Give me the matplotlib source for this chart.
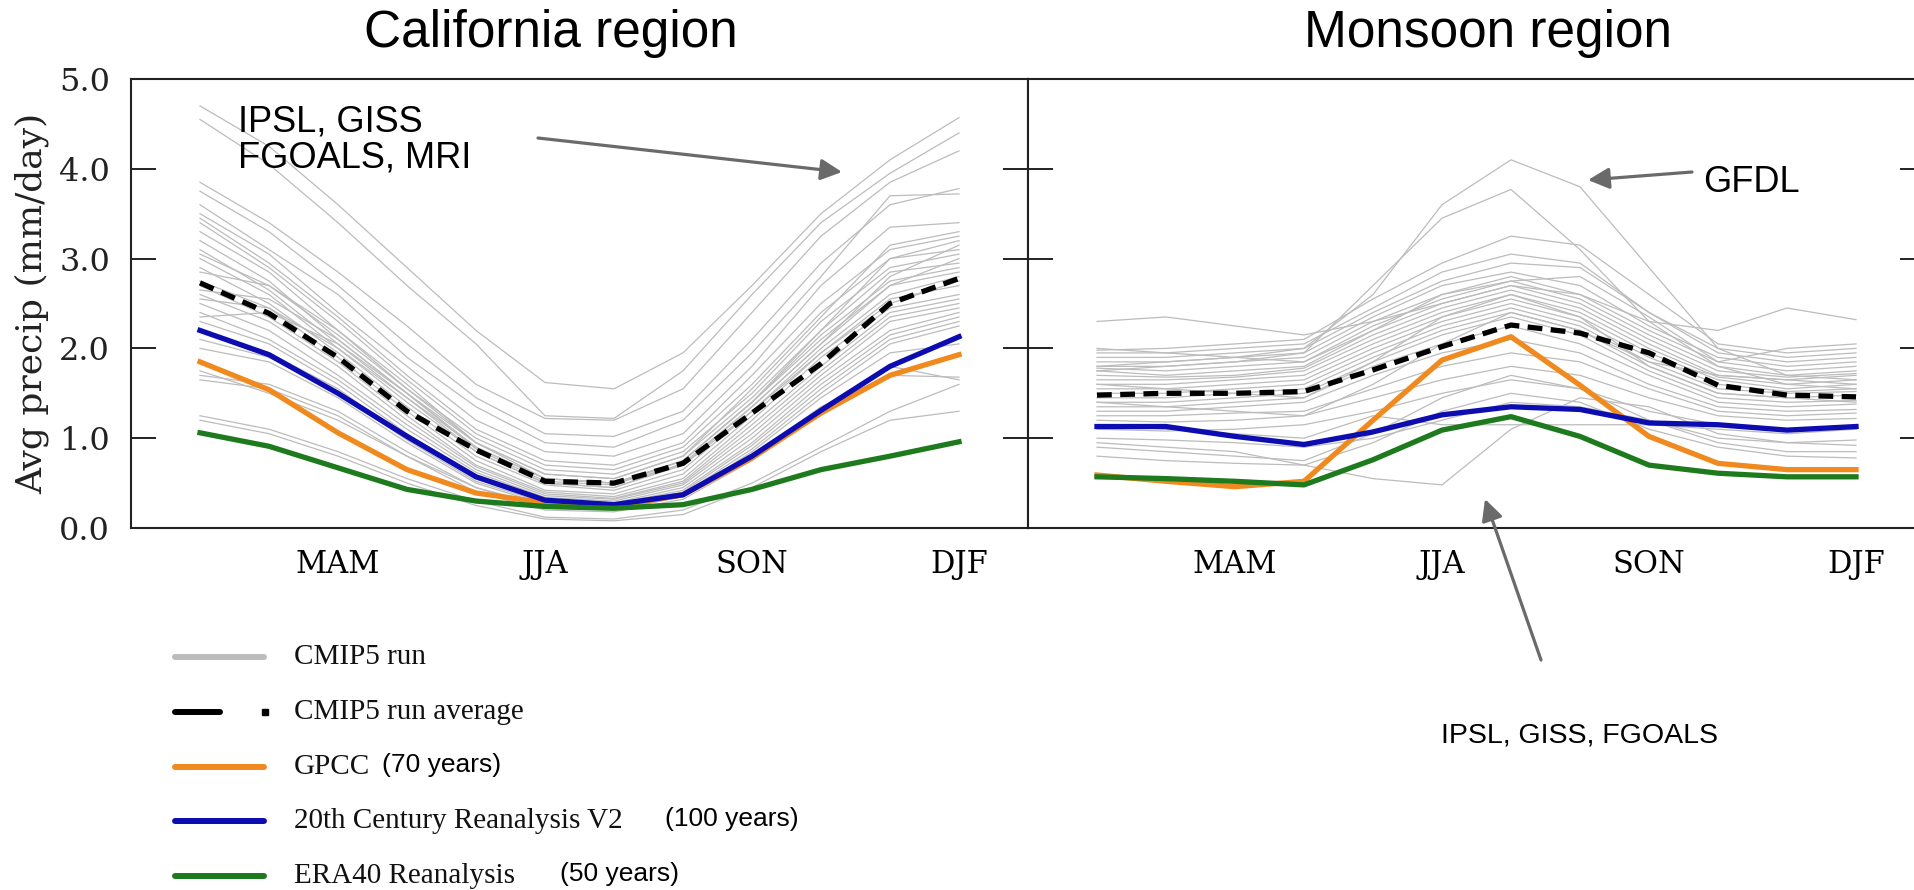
import matplotlib
matplotlib.use("Agg")
import matplotlib.pyplot as plt
from matplotlib.patches import FancyArrowPatch
from matplotlib.lines import Line2D

# ---------------- data ----------------
months = [1, 2, 3, 4, 5, 6, 7, 8, 9, 10, 11, 12]
season_ticks = [3, 6, 9, 12]
season_labels = ["MAM", "JJA", "SON", "DJF"]
y_ticks = [0, 1, 2, 3, 4, 5]
y_ticklabels = ["0.0", "1.0", "2.0", "3.0", "4.0", "5.0"]

cal_runs = [
    [4.70, 4.25, 3.60, 2.90, 2.20, 1.62, 1.55, 1.95, 2.70, 3.50, 4.10, 4.57],
    [4.55, 4.05, 3.40, 2.70, 2.05, 1.25, 1.22, 1.75, 2.60, 3.40, 3.95, 4.40],
    [3.85, 3.40, 2.85, 2.25, 1.60, 1.22, 1.20, 1.55, 2.40, 3.25, 3.85, 4.20],
    [3.75, 3.30, 2.70, 2.05, 1.45, 1.05, 1.02, 1.30, 2.10, 2.95, 3.60, 3.78],
    [3.60, 3.10, 2.60, 1.90, 1.35, 0.95, 0.90, 1.20, 1.95, 2.80, 3.70, 3.72],
    [3.50, 3.05, 2.40, 1.80, 1.20, 0.85, 0.80, 1.05, 1.80, 2.70, 3.35, 3.40],
    [3.45, 2.95, 2.35, 1.70, 1.10, 0.75, 0.70, 0.95, 1.70, 2.50, 3.10, 3.25],
    [3.40, 2.90, 2.30, 1.65, 1.05, 0.70, 0.65, 0.90, 1.60, 2.40, 3.00, 3.10],
    [3.30, 2.85, 2.20, 1.55, 1.00, 0.65, 0.60, 0.85, 1.50, 2.30, 2.90, 3.05],
    [3.20, 2.75, 2.10, 1.50, 0.95, 0.60, 0.55, 0.80, 1.45, 2.20, 2.85, 2.95],
    [3.10, 2.65, 2.05, 1.45, 0.90, 0.55, 0.50, 0.75, 1.40, 2.15, 2.75, 2.90],
    [3.00, 2.60, 2.00, 1.40, 0.85, 0.50, 0.45, 0.70, 1.35, 2.05, 2.70, 2.85],
    [2.90, 2.50, 1.95, 1.35, 0.80, 0.48, 0.42, 0.65, 1.30, 2.00, 2.60, 2.80],
    [2.85, 2.70, 2.20, 1.60, 0.95, 0.55, 0.50, 0.70, 1.30, 1.95, 2.50, 2.75],
    [2.75, 2.45, 1.90, 1.30, 0.75, 0.42, 0.38, 0.60, 1.25, 1.95, 2.55, 2.70],
    [2.70, 2.35, 1.85, 1.25, 0.70, 0.40, 0.35, 0.55, 1.20, 1.90, 2.45, 2.60],
    [2.60, 2.30, 1.80, 1.20, 0.68, 0.38, 0.33, 0.52, 1.15, 1.80, 2.40, 2.55],
    [2.50, 2.20, 1.70, 1.15, 0.65, 0.36, 0.32, 0.50, 1.10, 1.75, 2.35, 2.50],
    [2.40, 2.10, 1.65, 1.10, 0.62, 0.34, 0.30, 0.48, 1.05, 1.70, 2.30, 2.45],
    [2.30, 2.05, 1.60, 1.05, 0.58, 0.32, 0.28, 0.45, 1.00, 1.65, 2.20, 2.40],
    [2.20, 1.95, 1.55, 1.00, 0.55, 0.30, 0.27, 0.42, 0.95, 1.60, 2.15, 2.35],
    [2.10, 1.90, 1.50, 0.98, 0.52, 0.28, 0.25, 0.40, 0.92, 1.55, 2.10, 2.30],
    [2.00, 1.85, 1.45, 0.95, 0.50, 0.26, 0.23, 0.38, 0.88, 1.50, 2.05, 2.25],
    [1.70, 1.60, 1.30, 0.85, 0.45, 0.22, 0.20, 0.35, 0.80, 1.35, 1.70, 1.68],
    [1.65, 1.55, 1.25, 0.80, 0.40, 0.20, 0.18, 0.32, 0.75, 1.30, 1.80, 1.65],
    [1.25, 1.10, 0.85, 0.55, 0.30, 0.12, 0.10, 0.20, 0.50, 0.90, 1.30, 1.60],
    [1.20, 1.05, 0.80, 0.50, 0.25, 0.10, 0.08, 0.15, 0.45, 0.85, 1.20, 1.30],
    [1.75, 1.50, 1.20, 0.80, 0.45, 0.25, 0.20, 0.35, 0.85, 1.45, 1.95, 2.05],
    [3.05, 2.70, 2.15, 1.55, 0.95, 0.60, 0.55, 0.80, 1.55, 2.35, 3.15, 3.30],
    [2.35, 2.40, 2.05, 1.50, 0.90, 0.55, 0.50, 0.75, 1.40, 2.10, 2.70, 3.00],
    [2.55, 2.45, 2.00, 1.45, 0.85, 0.50, 0.45, 0.72, 1.35, 2.05, 2.80, 3.15],
    [2.65, 2.55, 2.10, 1.50, 0.88, 0.52, 0.48, 0.75, 1.40, 2.20, 3.00, 3.20],
]
cal_avg = [2.73, 2.39, 1.90, 1.30, 0.87, 0.52, 0.50, 0.72, 1.28, 1.83, 2.50, 2.78]
cal_gpcc = [1.85, 1.54, 1.06, 0.65, 0.39, 0.28, 0.24, 0.37, 0.78, 1.28, 1.70, 1.93]
cal_20cr = [2.20, 1.93, 1.50, 1.02, 0.57, 0.31, 0.26, 0.37, 0.80, 1.31, 1.80, 2.13]
cal_era40 = [1.06, 0.91, 0.67, 0.43, 0.30, 0.24, 0.22, 0.26, 0.43, 0.65, 0.80, 0.96]

mon_runs = [
    [1.80, 1.85, 1.90, 2.00, 2.60, 3.60, 4.10, 3.80, 2.90, 2.00, 1.70, 1.65],
    [1.75, 1.80, 1.85, 1.95, 2.70, 3.45, 3.77, 3.10, 2.30, 1.80, 1.60, 1.55],
    [2.30, 2.35, 2.25, 2.15, 2.30, 2.50, 2.70, 2.60, 2.30, 2.20, 2.45, 2.32],
    [1.98, 2.00, 2.05, 2.10, 2.55, 2.95, 3.25, 3.15, 2.60, 2.05, 1.95, 2.00],
    [1.95, 1.95, 2.00, 2.05, 2.45, 2.85, 3.05, 2.95, 2.40, 2.00, 1.90, 1.95],
    [1.90, 1.90, 1.95, 2.00, 2.40, 2.75, 2.95, 2.90, 2.40, 1.95, 1.85, 1.90],
    [1.85, 1.85, 1.90, 1.95, 2.35, 2.70, 2.85, 2.70, 2.25, 1.90, 1.80, 1.85],
    [1.80, 1.80, 1.85, 1.90, 2.30, 2.60, 2.80, 2.60, 2.20, 1.85, 1.75, 1.80],
    [1.78, 1.75, 1.80, 1.85, 2.25, 2.55, 2.75, 2.55, 2.15, 1.80, 1.70, 1.75],
    [1.75, 1.70, 1.75, 1.80, 2.20, 2.50, 2.70, 2.50, 2.10, 1.75, 1.68, 1.72],
    [1.70, 1.68, 1.70, 1.78, 2.15, 2.45, 2.65, 2.45, 2.05, 1.70, 1.65, 1.70],
    [1.65, 1.65, 1.68, 1.75, 2.10, 2.40, 2.60, 2.40, 2.00, 1.68, 1.60, 1.65],
    [1.60, 1.60, 1.65, 1.70, 2.05, 2.35, 2.55, 2.35, 1.95, 1.65, 1.55, 1.60],
    [1.55, 1.55, 1.60, 1.65, 2.00, 2.30, 2.50, 2.30, 1.90, 1.60, 1.52, 1.55],
    [1.50, 1.50, 1.55, 1.60, 1.95, 2.25, 2.45, 2.25, 1.85, 1.55, 1.50, 1.52],
    [1.45, 1.45, 1.50, 1.55, 1.90, 2.20, 2.40, 2.20, 1.80, 1.50, 1.45, 1.48],
    [1.40, 1.40, 1.45, 1.50, 1.85, 2.15, 2.35, 2.15, 1.75, 1.45, 1.40, 1.42],
    [1.35, 1.35, 1.40, 1.45, 1.80, 2.05, 2.25, 2.05, 1.70, 1.40, 1.35, 1.38],
    [1.30, 1.30, 1.35, 1.40, 1.70, 1.95, 2.10, 1.95, 1.60, 1.35, 1.30, 1.32],
    [1.25, 1.25, 1.28, 1.30, 1.55, 1.80, 1.95, 1.85, 1.55, 1.30, 1.25, 1.28],
    [1.20, 1.18, 1.20, 1.25, 1.45, 1.65, 1.80, 1.70, 1.45, 1.25, 1.20, 1.22],
    [1.10, 1.08, 1.10, 1.15, 1.30, 1.50, 1.65, 1.55, 1.30, 1.15, 1.10, 1.10],
    [0.95, 0.90, 0.85, 0.70, 0.55, 0.48, 1.10, 1.45, 1.35, 1.05, 0.95, 0.92],
    [1.00, 0.98, 0.95, 0.90, 1.00, 1.20, 1.40, 1.35, 1.20, 1.00, 0.95, 0.98],
    [0.90, 0.85, 0.80, 0.75, 1.05, 1.45, 1.70, 1.55, 1.20, 0.95, 0.85, 0.85],
    [0.80, 0.75, 0.72, 0.70, 0.95, 1.30, 1.50, 1.40, 1.10, 0.90, 0.80, 0.78],
    [2.00, 1.95, 1.90, 1.85, 2.20, 2.60, 2.75, 2.80, 2.35, 1.85, 2.00, 2.05],
    [1.60, 1.55, 1.50, 1.45, 1.85, 2.35, 2.60, 2.35, 1.80, 1.50, 1.45, 1.40],
    [1.15, 1.10, 1.05, 1.00, 1.25, 1.15, 1.15, 1.15, 1.15, 1.10, 1.05, 1.10],
    [1.40, 1.35, 1.30, 1.25, 1.60, 2.05, 2.40, 2.20, 1.85, 1.70, 1.65, 1.60],
]
mon_avg = [1.48, 1.50, 1.50, 1.52, 1.76, 2.02, 2.26, 2.17, 1.95, 1.59, 1.48, 1.46]
mon_gpcc = [0.59, 0.52, 0.46, 0.52, 1.20, 1.87, 2.13, 1.59, 1.02, 0.72, 0.65, 0.65]
mon_20cr = [1.13, 1.13, 1.02, 0.93, 1.07, 1.26, 1.35, 1.32, 1.17, 1.15, 1.09, 1.13]
mon_era40 = [0.57, 0.55, 0.52, 0.48, 0.76, 1.09, 1.24, 1.02, 0.70, 0.61, 0.57, 0.57]

titles = ["California region", "Monsoon region"]
ylabel = "Avg precip (mm/day)"
legend_labels = ["CMIP5 run", "CMIP5 run average", "GPCC", "20th Century Reanalysis V2", "ERA40 Reanalysis"]
legend_notes = ["", "", "(70 years)", "(100 years)", "(50 years)"]

# ---------------- style ----------------
W, H = 1915, 890
C_GRAY = "#bcbcbc"
C_BLACK = "#000000"
C_ORANGE = "#f08a1e"
C_BLUE = "#0c0cb0"
C_GREEN = "#1d7a1d"
C_ARROW = "#6a6a6a"
SERIF = "DejaVu Serif"
SANS = "Liberation Sans"
LW = 3.8

fig = plt.figure(figsize=(W / 100, H / 100), dpi=100)
fig.patch.set_facecolor("white")

def fx(x):
    return x / W

def fy(y):
    return 1 - y / H

ax_w = 897 / W
ax_h = 449 / H
ax_y0 = fy(528)
axL = fig.add_axes([fx(131), ax_y0, ax_w, ax_h])
axR = fig.add_axes([fx(1028), ax_y0, ax_w, ax_h])

panels = [
    (axL, cal_runs, cal_avg, cal_gpcc, cal_20cr, cal_era40),
    (axR, mon_runs, mon_avg, mon_gpcc, mon_20cr, mon_era40),
]
for ax, runs, avg, gpcc, cr20, era in panels:
    for r in runs:
        ax.plot(months, r, color=C_GRAY, lw=0.9, zorder=1)
    ax.plot(months, avg, color=C_BLACK, lw=LW, dashes=(2.8, 1.6), zorder=3)
    ax.plot(months, gpcc, color=C_ORANGE, lw=LW, zorder=4)
    ax.plot(months, cr20, color=C_BLUE, lw=LW, zorder=5)
    ax.plot(months, era, color=C_GREEN, lw=LW, zorder=6)
    ax.set_xlim(0, 13)
    ax.set_ylim(0, 5)
    ax.set_xticks(season_ticks)
    ax.set_xticklabels(season_labels, fontfamily=SERIF, fontsize=22)
    ax.set_yticks(y_ticks)
    ax.tick_params(axis="x", length=0, pad=15)
    ax.tick_params(axis="y", direction="in", length=18, width=1.4,
                   left=True, right=True, colors="#222222")
    for s in ax.spines.values():
        s.set_linewidth(1.5)
        s.set_color("#222222")

axL.set_yticklabels(y_ticklabels, fontfamily=SERIF, fontsize=23)
axL.tick_params(axis="y", pad=15, labelcolor="#222222")
axR.tick_params(axis="y", labelleft=False)
axL.set_ylabel(ylabel, fontfamily=SERIF, fontsize=26, color="#222222")
axL.yaxis.set_label_coords((49 - 131) / 897, 0.5)

# titles
fig.text(fx(551), fy(34), titles[0], fontfamily=SANS, fontsize=37,
         ha="center", va="center")
fig.text(fx(1488), fy(34), titles[1], fontfamily=SANS, fontsize=37,
         ha="center", va="center")

# annotations
fig.text(fx(238), fy(140), "IPSL, GISS\nFGOALS, MRI", fontfamily=SANS,
         fontsize=26, ha="left", va="center", linespacing=1.05)
fig.text(fx(1703), fy(182), "GFDL", fontfamily=SANS, fontsize=26,
         ha="left", va="center")
fig.text(fx(1441), fy(736), "IPSL, GISS, FGOALS", fontfamily=SANS,
         fontsize=20.5, ha="left", va="center")

def arrow(p0, p1):
    a = FancyArrowPatch((fx(p0[0]), fy(p0[1])), (fx(p1[0]), fy(p1[1])),
                        transform=fig.transFigure, arrowstyle="-|>",
                        mutation_scale=32, lw=2.3, color=C_ARROW,
                        shrinkA=0, shrinkB=0)
    fig.add_artist(a)

arrow((538, 138), (842, 172))
arrow((1692, 172), (1588, 180))
arrow((1541, 660), (1485, 499))

# legend
leg_y = [657, 712, 767, 821, 876]
leg_colors = [C_GRAY, C_BLACK, C_ORANGE, C_BLUE, C_GREEN]
note_x = [0, 0, 382, 665, 560]
for i, (yy, c) in enumerate(zip(leg_y, leg_colors)):
    if i == 1:
        fig.add_artist(Line2D([fx(175), fx(220)], [fy(yy), fy(yy)],
                              color=c, lw=4.3, solid_capstyle="round",
                              transform=fig.transFigure))
        fig.add_artist(Line2D([fx(265)], [fy(yy)], color=c, marker="s",
                              markersize=4.5, lw=0, transform=fig.transFigure))
    else:
        fig.add_artist(Line2D([fx(175), fx(264)], [fy(yy), fy(yy)],
                              color=c, lw=4.3, solid_capstyle="round",
                              transform=fig.transFigure))
    fig.text(fx(294), fy(yy), legend_labels[i], fontfamily="Liberation Serif",
             fontsize=21, ha="left", va="center", color="#111111")
    if legend_notes[i]:
        fig.text(fx(note_x[i]), fy(yy - 2), legend_notes[i], fontfamily=SANS,
                 fontsize=19, ha="left", va="center")

fig.savefig("out.png", dpi=100, facecolor="white")
